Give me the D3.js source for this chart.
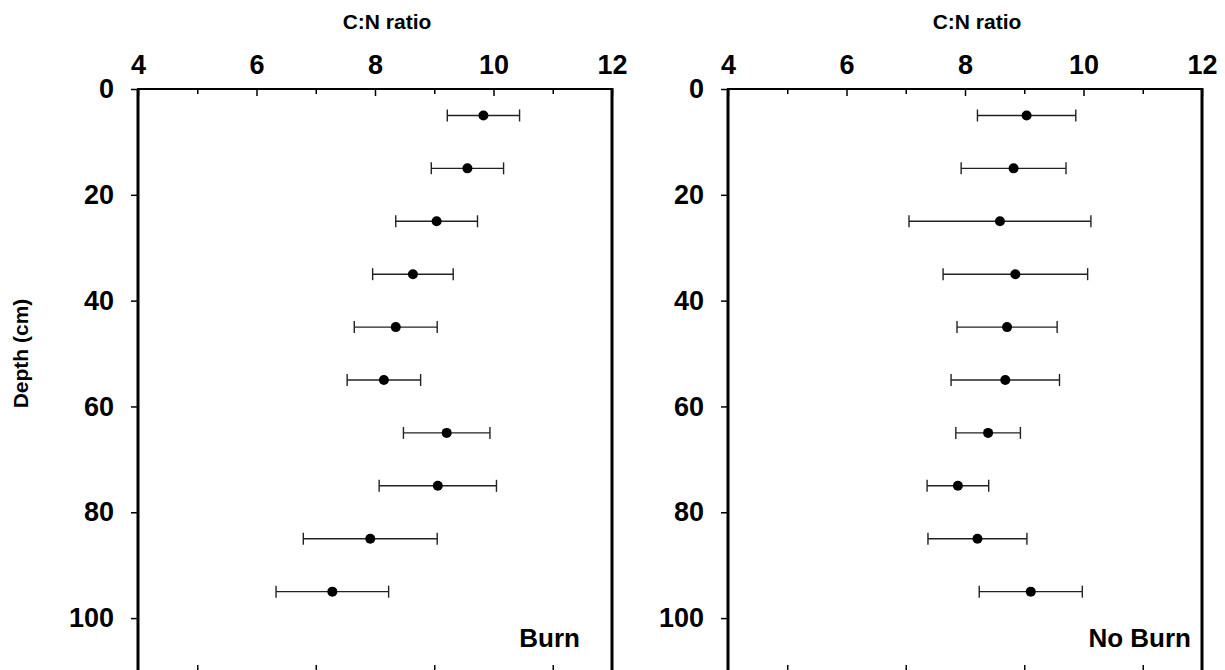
<!DOCTYPE html>
<html>
<head>
<meta charset="utf-8">
<script src="https://cdn.jsdelivr.net/npm/d3@7"></script>
<style>
  body { margin: 0; background: #fff; }
  svg text { font-family: Arial, "Liberation Sans", sans-serif; font-weight: bold; fill: #000; }
</style>
</head>
<body>
<svg id="chart" width="1225" height="670"></svg>
<script>
// depth of each sample (cm)
var depths = [5, 15, 25, 35, 45, 55, 65, 75, 85, 95];

// C:N ratio, mean and error
var burnMean = [9.83, 9.56, 9.04, 8.64, 8.35, 8.15, 9.21, 9.06, 7.92, 7.28];
var burnErr = [0.61, 0.61, 0.69, 0.68, 0.70, 0.62, 0.73, 0.99, 1.13, 0.95];
var noBurnMean = [9.04, 8.82, 8.59, 8.85, 8.71, 8.68, 8.39, 7.88, 8.21, 9.11];
var noBurnErr = [0.83, 0.885, 1.535, 1.22, 0.845, 0.915, 0.545, 0.52, 0.835, 0.87];

var xTicks = [4, 6, 8, 10, 12];
var xMinorTicks = [5, 7, 9, 11];
var yTicks = [0, 20, 40, 60, 80, 100];

var panelNames = ["Burn", "No Burn"];
var xTitle = "C:N ratio";
var yTitle = "Depth (cm)";

(function chart() {
    var svg = d3.select("#chart");

    var plotTop = 89, plotBottom = 671, pw = 474;
    var panels = [
        {left: 138, name: panelNames[0], mean: burnMean, err: burnErr, labelX: 442},
        {left: 728, name: panelNames[1], mean: noBurnMean, err: noBurnErr, labelX: 463}
    ];

    var y = d3.scaleLinear().domain([0, 110]).range([plotTop, plotBottom]);

    panels.forEach(function (p) {
        var x = d3.scaleLinear().domain([4, 12]).range([0, pw]);
        var g = svg.append("g").attr("transform", "translate(" + p.left + ",0)");

        // top axis, ticks pointing in
        var ax = g.append("g").attr("transform", "translate(0," + plotTop + ")")
            .call(d3.axisTop(x).tickValues(xTicks).tickSizeInner(-7).tickSizeOuter(0).tickPadding(15));
        ax.selectAll("text").style("font-size", "27px");
        g.append("g").attr("transform", "translate(0," + plotTop + ")")
            .call(d3.axisTop(x).tickValues(xMinorTicks).tickSize(-5).tickFormat(""));

        // bottom axis (mostly off the picture)
        g.append("g").attr("transform", "translate(0," + plotBottom + ")")
            .call(d3.axisBottom(x).tickValues(xMinorTicks).tickSize(-6).tickFormat(""));

        // left axis
        var ay = g.append("g")
            .call(d3.axisLeft(y).tickValues(yTicks).tickSizeInner(7).tickSizeOuter(0).tickPadding(17));
        ay.selectAll("text").style("font-size", "27px");

        g.selectAll(".domain").remove();
        g.selectAll(".tick line").attr("stroke", "#000").attr("stroke-width", 1.5);

        // frame
        g.append("line").attr("x1", -1).attr("x2", pw + 1).attr("y1", plotTop).attr("y2", plotTop)
            .attr("stroke", "#000").attr("stroke-width", 2);
        g.append("line").attr("x1", 0).attr("x2", 0).attr("y1", plotTop).attr("y2", plotBottom)
            .attr("stroke", "#000").attr("stroke-width", 3);
        g.append("line").attr("x1", pw).attr("x2", pw).attr("y1", plotTop - 1).attr("y2", plotBottom)
            .attr("stroke", "#000").attr("stroke-width", 3);

        // axis title
        g.append("text")
            .attr("x", pw / 2 + 12)
            .attr("y", 29)
            .attr("text-anchor", "middle")
            .style("font-size", "21px")
            .text(xTitle);

        // error bars and points
        var pts = g.selectAll(".pt")
            .data(depths.map(function (d, i) { return {depth: d, mean: p.mean[i], err: p.err[i]}; }))
            .enter().append("g").attr("class", "pt");

        pts.append("line")
            .attr("x1", function (d) { return x(d.mean - d.err); })
            .attr("x2", function (d) { return x(d.mean + d.err); })
            .attr("y1", function (d) { return y(d.depth); })
            .attr("y2", function (d) { return y(d.depth); })
            .attr("stroke", "#222").attr("stroke-width", 1.4);

        [-1, 1].forEach(function (s) {
            pts.append("line")
                .attr("x1", function (d) { return x(d.mean + s * d.err); })
                .attr("x2", function (d) { return x(d.mean + s * d.err); })
                .attr("y1", function (d) { return y(d.depth) - 6; })
                .attr("y2", function (d) { return y(d.depth) + 6; })
                .attr("stroke", "#222").attr("stroke-width", 1.4);
        });

        pts.append("circle")
            .attr("cx", function (d) { return x(d.mean); })
            .attr("cy", function (d) { return y(d.depth); })
            .attr("r", 5)
            .attr("fill", "#000");

        // panel label
        g.append("text")
            .attr("x", p.labelX)
            .attr("y", 647)
            .attr("text-anchor", "end")
            .style("font-size", "26px")
            .text(p.name);
    });

    // y axis title
    svg.append("text")
        .attr("transform", "translate(28," + y(50) + ") rotate(-90)")
        .attr("text-anchor", "middle")
        .style("font-size", "21px")
        .text(yTitle);
}());
</script>
</body>
</html>
